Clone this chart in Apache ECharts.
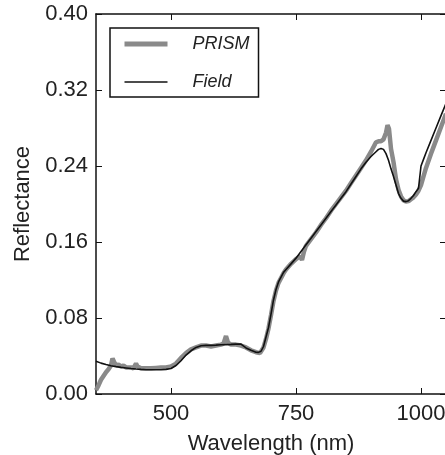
<!DOCTYPE html>
<html>
<head>
<meta charset="utf-8">
<script src="https://cdn.jsdelivr.net/npm/echarts@6/dist/echarts.min.js"></script>
<style>
html,body{margin:0;padding:0;background:#fff;}
#chart{width:445px;height:455px;}
</style>
</head>
<body>
<div id="chart"></div>
<script>
var fieldNm = [350,360,370,380,390,400,410,420,430,440,450,460,470,480,490,500,510,520,530,540,550,560,570,580,590,600,610,620,630,640,650,660,670,675,680,685,690,695,700,705,710,715,720,725,730,740,750,760,770,780,790,800,810,820,830,840,850,860,870,880,890,900,910,915,920,925,930,935,940,945,950,955,960,965,970,975,980,985,990,995,998,1000,1005,1010,1020,1030,1040,1050];
var fieldRefl = [0.0345,0.0325,0.031,0.0298,0.0288,0.0280,0.0274,0.0268,0.0263,0.0259,0.0256,0.0255,0.0255,0.0256,0.0259,0.0268,0.0300,0.0350,0.0410,0.0455,0.0490,0.0508,0.0512,0.0512,0.0514,0.0518,0.0520,0.0522,0.0525,0.0525,0.0485,0.0460,0.0440,0.0438,0.0450,0.0500,0.0600,0.0700,0.0840,0.0990,0.1100,0.1180,0.1230,0.1280,0.1310,0.1370,0.1430,0.1500,0.1570,0.1640,0.1710,0.1780,0.1850,0.1920,0.1990,0.2060,0.2130,0.2210,0.2290,0.2370,0.2440,0.2500,0.2550,0.2575,0.2585,0.2575,0.2530,0.2460,0.2370,0.2290,0.2200,0.2110,0.2060,0.2030,0.2025,0.2035,0.2060,0.2090,0.2130,0.2165,0.2185,0.2400,0.2470,0.2540,0.2670,0.2800,0.2930,0.3060];

var prismNm = [350,355,360,365,370,375,380,383,386,390,395,400,405,410,420,425,430,433,440,450,460,470,480,490,500,510,520,530,540,550,560,570,580,590,600,605,610,614,620,630,640,650,660,670,678,685,690,695,700,705,710,715,720,725,730,740,750,758,762,766,770,780,790,800,810,820,830,840,850,860,870,880,890,900,905,910,915,920,925,930,933,936,940,945,950,955,960,965,970,975,980,985,990,995,1000,1005,1010,1020,1030,1040,1050];
var prismRefl = [0.004,0.009,0.015,0.019,0.023,0.026,0.030,0.0375,0.034,0.030,0.031,0.029,0.030,0.028,0.028,0.027,0.032,0.029,0.027,0.027,0.027,0.0275,0.028,0.028,0.029,0.032,0.038,0.043,0.047,0.049,0.051,0.051,0.050,0.051,0.052,0.053,0.061,0.054,0.052,0.052,0.051,0.049,0.046,0.044,0.043,0.049,0.058,0.069,0.083,0.098,0.109,0.117,0.122,0.127,0.131,0.137,0.142,0.145,0.141,0.150,0.156,0.163,0.170,0.178,0.185,0.193,0.200,0.207,0.214,0.222,0.230,0.238,0.246,0.255,0.260,0.265,0.266,0.266,0.268,0.275,0.283,0.279,0.258,0.244,0.226,0.215,0.208,0.204,0.2025,0.203,0.205,0.207,0.210,0.214,0.220,0.229,0.238,0.253,0.267,0.281,0.295];

var xTicks = [500, 750, 1000];
var yMin = 0, yMax = 0.40, yStep = 0.08;
var xMin = 350, xMax = 1050;

function pairs(xs, ys){ return xs.map(function(x,i){ return [x, ys[i]]; }); }

var chart = echarts.init(document.getElementById('chart'), null, {renderer:'canvas'});
var font = 'Liberation Sans, Arial, sans-serif';
var axisLine = {show:true, onZero:false, lineStyle:{color:'#111', width:1.5}};
chart.setOption({
  animation:false,
  backgroundColor:'#fff',
  grid:{left:96, right:-1, top:14, bottom:61, containLabel:false, outerBoundsMode:'none'},
  legend:{
    show:true,
    orient:'vertical', left:110, top:28,
    padding:[7,9,6,12],
    borderColor:'#111', borderWidth:1.5,
    itemWidth:43, itemHeight:14, itemGap:20,
    itemStyle:{opacity:0},
    textStyle:{fontFamily:font, fontSize:18, fontStyle:'italic', color:'#222', padding:[0,0,0,20]},
    data:[
      {name:'PRISM', lineStyle:{width:5, color:'#8a8a8a'}, itemStyle:{opacity:0}},
      {name:'Field', lineStyle:{width:1.6, color:'#111'}, itemStyle:{opacity:0}}
    ]
  },
  xAxis:[{
    type:'value', min:xMin, max:xMax, position:'bottom',
    name:'Wavelength (nm)', nameLocation:'middle', nameGap:39,
    nameTextStyle:{fontFamily:font, fontSize:22, color:'#222'},
    axisLine:axisLine,
    axisTick:{show:true, inside:true, length:6, customValues:xTicks, lineStyle:{color:'#111', width:1}},
    axisLabel:{show:true, customValues:xTicks, margin:9, fontFamily:font, fontSize:22, color:'#222', formatter:function(v){return String(v);}},
    splitLine:{show:false}
  },{
    type:'value', min:xMin, max:xMax, position:'top',
    axisLine:axisLine,
    axisTick:{show:true, inside:true, length:6, customValues:xTicks, lineStyle:{color:'#111', width:1}},
    axisLabel:{show:false}, splitLine:{show:false}
  }],
  yAxis:[{
    type:'value', min:yMin, max:yMax, interval:yStep, position:'left',
    name:'Reflectance', nameLocation:'middle', nameGap:54, nameRotate:90,
    nameTextStyle:{fontFamily:font, fontSize:22, color:'#222'},
    axisLine:axisLine,
    axisTick:{show:true, inside:true, length:6, lineStyle:{color:'#111', width:1}},
    axisLabel:{show:true, margin:8, fontFamily:font, fontSize:22, color:'#222', formatter:function(v){return v.toFixed(2);}},
    splitLine:{show:false}
  },{
    type:'value', min:yMin, max:yMax, interval:yStep, position:'right',
    axisLine:axisLine,
    axisTick:{show:true, inside:true, length:6, lineStyle:{color:'#111', width:1}},
    axisLabel:{show:false}, splitLine:{show:false}
  }],
  series:[{
    name:'PRISM', type:'line', symbol:'none', xAxisIndex:0, yAxisIndex:0,
    lineStyle:{width:4.5, color:'#8a8a8a'}, itemStyle:{color:'#8a8a8a'},
    data:pairs(prismNm, prismRefl)
  },{
    name:'Field', type:'line', symbol:'none', xAxisIndex:0, yAxisIndex:0,
    lineStyle:{width:1.6, color:'#111'}, itemStyle:{color:'#111'},
    data:pairs(fieldNm, fieldRefl)
  }]
});
</script>
</body>
</html>
